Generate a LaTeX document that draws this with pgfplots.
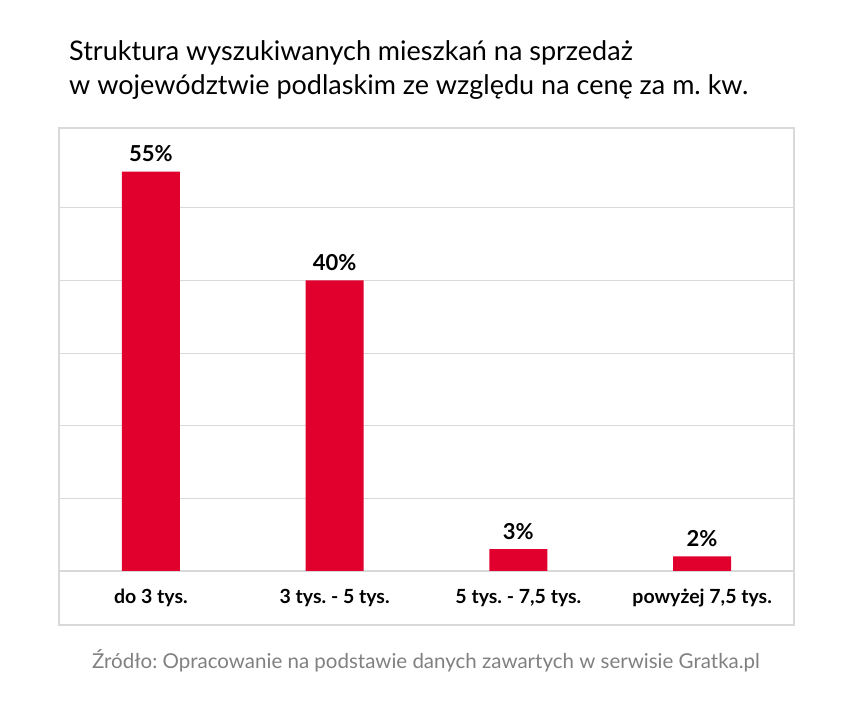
\documentclass[border=0pt]{standalone}
\usepackage{fontspec}
\setmainfont{Lato}
\usepackage{pgfplots}
\pgfplotsset{compat=1.18}
\definecolor{barred}{RGB}{225,0,45}
\definecolor{gridgray}{RGB}{217,217,217}
\definecolor{srcgray}{RGB}{128,128,128}
\frenchspacing
\begin{document}
\begin{tikzpicture}[x=1pt,y=1pt]
\path (0,0) rectangle (852,709);
\node[anchor=base west, font=\fontsize{27}{30}\selectfont, inner sep=0] at (69,648) {Struktura wyszukiwanych mieszkań na sprzedaż};
\node[anchor=base west, font=\fontsize{27}{30}\selectfont, inner sep=0] at (69,614) {w województwie podlaskim ze względu na cenę za m. kw.};
\begin{axis}[
  at={(59pt,84pt)}, anchor=south west,
  width=735pt, height=497pt, scale only axis,
  xmin=-0.5, xmax=3.5, ymin=-7.44, ymax=61,
  ybar, bar width=58pt,
  xtick={0,1,2,3},
  xticklabels={do 3 tys.,3 tys. - 5 tys.,5 tys. - 7{,}5 tys.,powyżej 7{,}5 tys.},
  xticklabel style={anchor=center, yshift=27pt, font=\bfseries\fontsize{19.5}{22}\selectfont},
  ytick={0,10,20,30,40,50}, yticklabels={},
  major tick length=0,
  ymajorgrids, grid style={draw=gridgray, line width=1.2pt},
  axis line style={draw=gridgray, line width=1.2pt},
  /pgf/number format/assume math mode=true,
  nodes near coords={\pgfmathprintnumber{\pgfplotspointmeta}\%},
  nodes near coords style={font=\bfseries\fontsize{22}{24}\selectfont, anchor=south, yshift=6pt, text=black},
  clip=false,
]
\addplot[fill=barred, draw=none] coordinates {(0,55) (1,40) (2,3) (3,2)};
\end{axis}
\node[font=\fontsize{20.5}{24}\selectfont, text=srcgray, anchor=base] at (426,40) {Źródło: Opracowanie na podstawie danych zawartych w serwisie Gratka.pl};
\end{tikzpicture}
\end{document}
